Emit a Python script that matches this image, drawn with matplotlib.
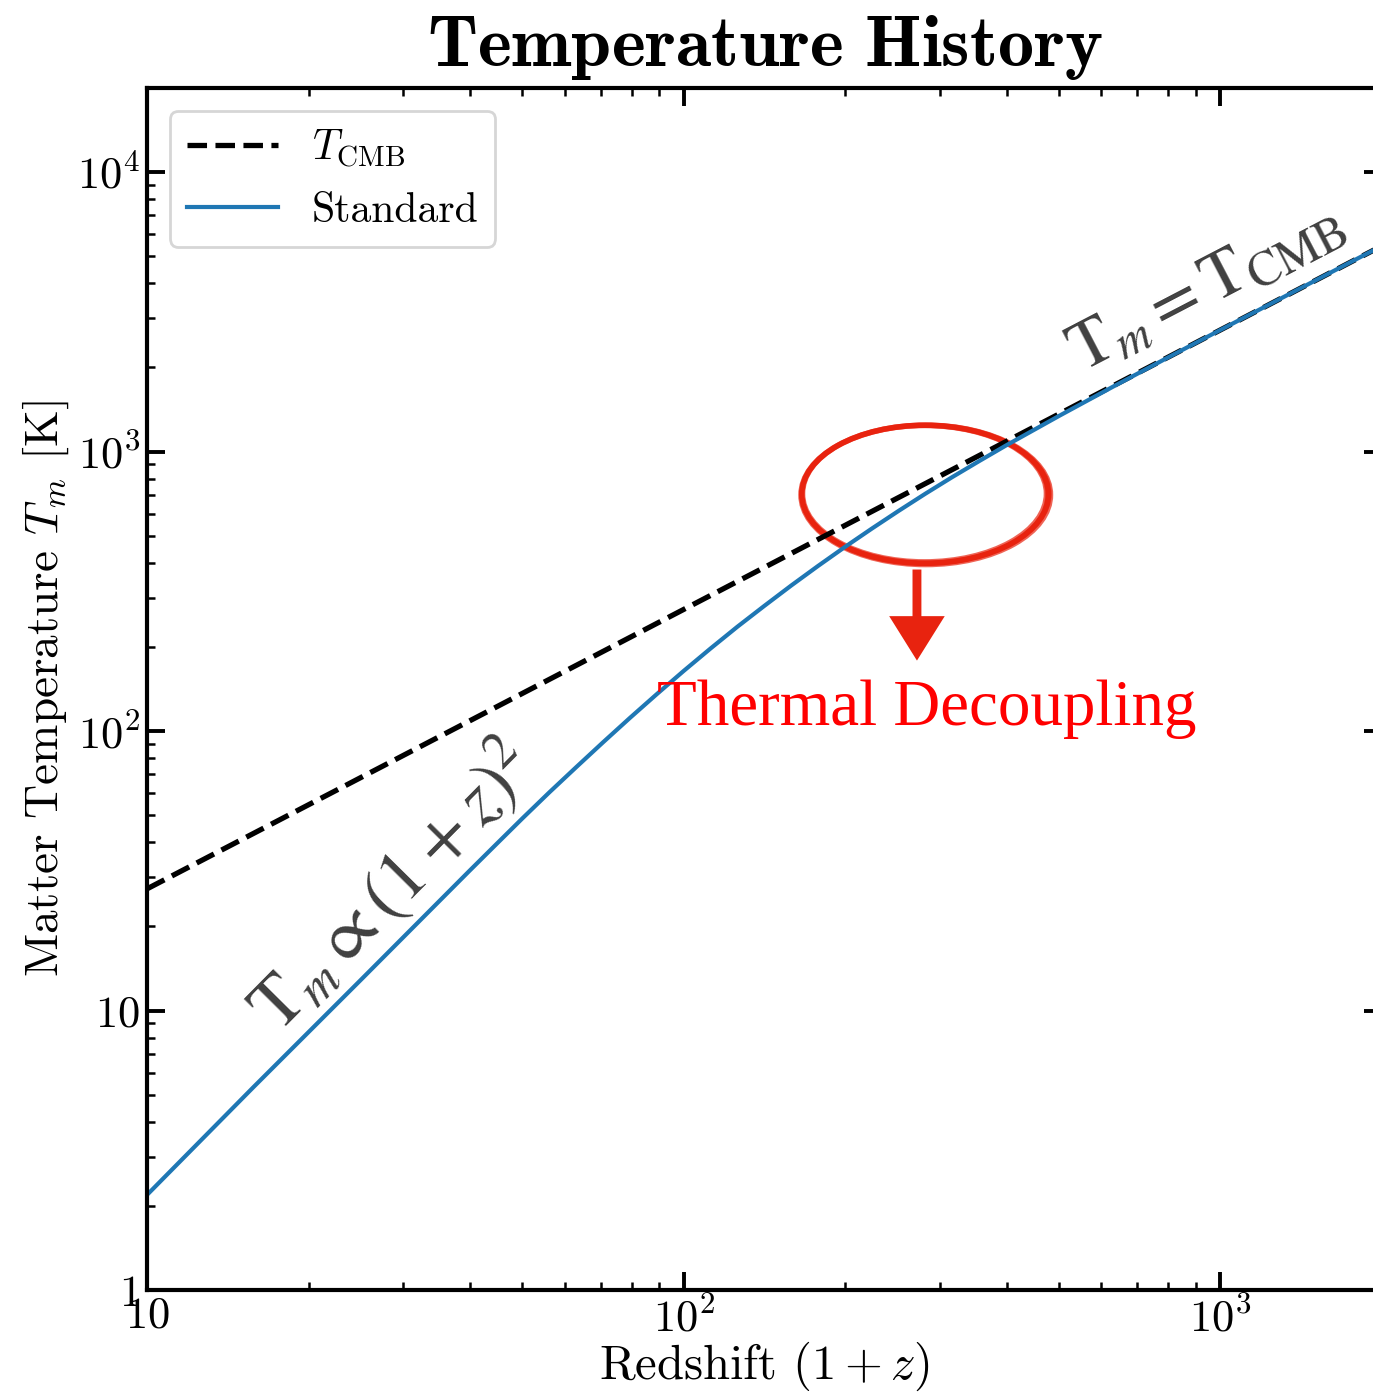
import matplotlib
matplotlib.use("Agg")
import matplotlib.pyplot as plt
from matplotlib.patches import Ellipse, FancyArrowPatch

plt.rcParams.update({
    "font.family": "serif",
    "font.serif": ["cmr10"],
    "mathtext.fontset": "cm",
    "axes.formatter.use_mathtext": True,
    "axes.formatter.min_exponent": 2,
    "axes.unicode_minus": False,
})

# CMB temperature, T = 2.725 K (1+z)
z_cmb = [10, 2000]
t_cmb = [27.25, 5450]

# matter temperature, standard recombination history
z_std = [10, 15.8, 25.1, 39.8, 44.7, 50.1, 56.2, 63.1, 70.8, 79.4, 89.1,
         100, 112.2, 125.9, 141.3, 158.5, 177.8, 199.5, 223.9, 251.2, 281.8,
         316.2, 354.8, 398.1, 501.2, 631, 794.3, 1000, 2000]
t_std = [2.19, 5.33, 12.95, 31.5, 39.3, 48.8, 60.4, 74.4, 91.3, 111.5, 135.6,
         164.2, 197.5, 236.3, 280.5, 331.5, 389.4, 455.3, 529.6, 613, 706.3,
         809.8, 923.6, 1050.5, 1344, 1708, 2160, 2725, 5450]

fig = plt.figure(figsize=(6.865, 6.97), dpi=200)
ax = fig.add_axes([0.1071, 0.0746, 0.8995, 0.8623])

ax.plot(z_cmb, t_cmb, ls="--", color="black", lw=1.9, label=r"$T_{\rm CMB}$")
ax.plot(z_std, t_std, color="#1f77b4", lw=1.5, label="Standard")

ax.set_xscale("log")
ax.set_yscale("log")
ax.set_xlim(10, 2000)
ax.set_ylim(1, 2e4)

ax.tick_params(which="both", direction="in", top=True, right=True,
               labelsize=16, pad=2.5)
ax.tick_params(which="major", length=6.5, width=1.4)
ax.tick_params(which="minor", length=3, width=0.9)
for s in ax.spines.values():
    s.set_linewidth(1.5)

ax.set_xlabel(r"Redshift $(1+z)$", fontsize=17.5, labelpad=0)
ax.set_ylabel(r"Matter Temperature $T_m$ [K]", fontsize=17, labelpad=2)
ax.set_title(r"$\mathbf{Temperature\ History}$", fontsize=26, pad=8)

ax.legend(loc="upper left", fontsize=15, borderaxespad=0.55,
          handlelength=2.2, labelspacing=0.55)

# slope annotations
ax.text(17.5, 8.2, r"$\mathrm{T}_m \propto (1+z)^2$", rotation=45.3,
        rotation_mode="anchor", ha="left", va="baseline", fontsize=26.5,
        color="#404040", math_fontfamily="stix")
ax.text(551, 1920, r"$\mathrm{T}_m = \mathrm{T}_{\mathrm{CMB}}$", rotation=27.5,
        rotation_mode="anchor", ha="left", va="baseline", fontsize=25,
        color="#404040", math_fontfamily="stix")

# decoupling marker: a few overlapping strokes for a hand-drawn ring
red = "#e8230f"
strokes = [(0.630, 0.662, 0.1997, 0.1148, 2.0, 1.0),
           (0.6305, 0.6615, 0.2040, 0.1180, 1.1, 0.7),
           (0.6295, 0.6625, 0.1955, 0.1115, 1.1, 0.7),
           (0.631, 0.6625, 0.2015, 0.1130, 0.8, 0.5),
           (0.629, 0.6615, 0.1980, 0.1165, 0.8, 0.5)]
for cx, cy, w, h, lw, a in strokes:
    ax.add_patch(Ellipse((cx, cy), w, h, transform=ax.transAxes, fill=False,
                         ec=red, lw=lw, alpha=a))
ax.add_patch(FancyArrowPatch((0.6234, 0.604), (0.6234, 0.519),
                             transform=ax.transAxes, color=red,
                             arrowstyle="simple,head_length=1.6,head_width=2.0,tail_width=0.32",
                             mutation_scale=10, lw=0))
ax.text(0.631, 0.470, "Thermal Decoupling", transform=ax.transAxes,
        ha="center", va="baseline", fontsize=23.4, color="red",
        family="Liberation Serif")

fig.savefig("out.png", dpi=200)
